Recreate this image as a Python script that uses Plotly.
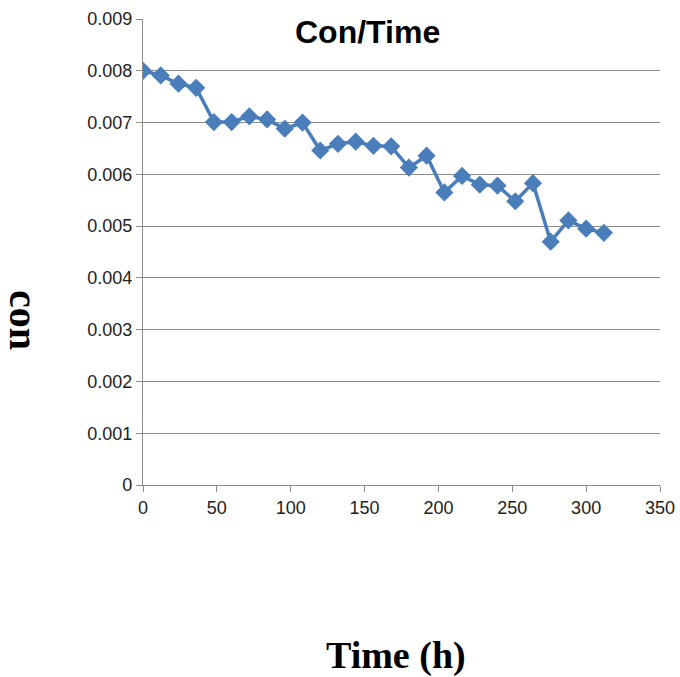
import plotly.graph_objects as go

# Sampling times (hours) and measured concentration
time_h = [0, 12, 24, 36, 48, 60, 72, 84, 96, 108, 120, 132, 144, 156, 168,
          180, 192, 204, 216, 228, 240, 252, 264, 276, 288, 300, 312]
con = [0.00800, 0.00791, 0.00775, 0.00767, 0.00701, 0.00701, 0.00712, 0.00706,
       0.00688, 0.00700, 0.00646, 0.00659, 0.00663, 0.00655, 0.00654, 0.00613,
       0.00636, 0.00565, 0.00597, 0.00580, 0.00578, 0.00548, 0.00583, 0.00470,
       0.00511, 0.00495, 0.00487]

y_tick_vals = [0, 0.001, 0.002, 0.003, 0.004, 0.005, 0.006, 0.007, 0.008, 0.009]
y_tick_text = ["0", "0.001", "0.002", "0.003", "0.004", "0.005", "0.006",
               "0.007", "0.008", "0.009"]
x_tick_vals = [0, 50, 100, 150, 200, 250, 300, 350]

BLUE = "#4A7EBB"
GRID = "#8C8C8C"
NARROW = "Liberation Sans Narrow, Arial Narrow, Liberation Sans, sans-serif"
SERIF = "Liberation Serif, Times New Roman, serif"

fig = go.Figure()
fig.add_trace(go.Scatter(
    x=time_h, y=con, mode="lines+markers",
    line=dict(color=BLUE, width=3.5),
    marker=dict(symbol="diamond", size=14, color=BLUE),
    showlegend=False,
))

fig.update_layout(
    width=680, height=677,
    margin=dict(l=143, r=20, t=19, b=192),
    paper_bgcolor="white", plot_bgcolor="white",
    font=dict(family=NARROW, size=18, color="#222222"),
    xaxis=dict(
        range=[0, 350], tickvals=x_tick_vals, automargin=False,
        showgrid=False, zeroline=False,
        showline=True, linecolor=GRID, linewidth=1.3,
        ticks="outside", ticklen=6, tickcolor=GRID, tickwidth=1,
        tickfont=dict(family=NARROW, size=18, color="#222222"),
    ),
    yaxis=dict(
        range=[0, 0.009], tickvals=y_tick_vals, ticktext=y_tick_text,
        automargin=False,
        showgrid=True, gridcolor=GRID, gridwidth=1, zeroline=False,
        showline=True, linecolor=GRID, linewidth=1.3,
        ticks="outside", ticklen=6, tickcolor=GRID, tickwidth=1,
        tickfont=dict(family=NARROW, size=18, color="#222222"),
    ),
    annotations=[
        dict(text="<b>Con/Time</b>", xref="paper", yref="paper",
             x=0.435, y=0.972, xanchor="center", yanchor="middle",
             showarrow=False,
             font=dict(family=NARROW, size=32, color="black")),
        dict(text="<b>Time (h)</b>", xref="paper", yref="paper",
             x=0.489, y=-0.365, xanchor="center", yanchor="middle",
             showarrow=False,
             font=dict(family=SERIF, size=38, color="black")),
        dict(text="<b>con</b>", xref="paper", yref="paper",
             x=-0.230, y=0.354, xanchor="center", yanchor="middle",
             showarrow=False, textangle=90,
             font=dict(family=SERIF, size=40, color="black")),
    ],
)

fig.write_html("out.html")
